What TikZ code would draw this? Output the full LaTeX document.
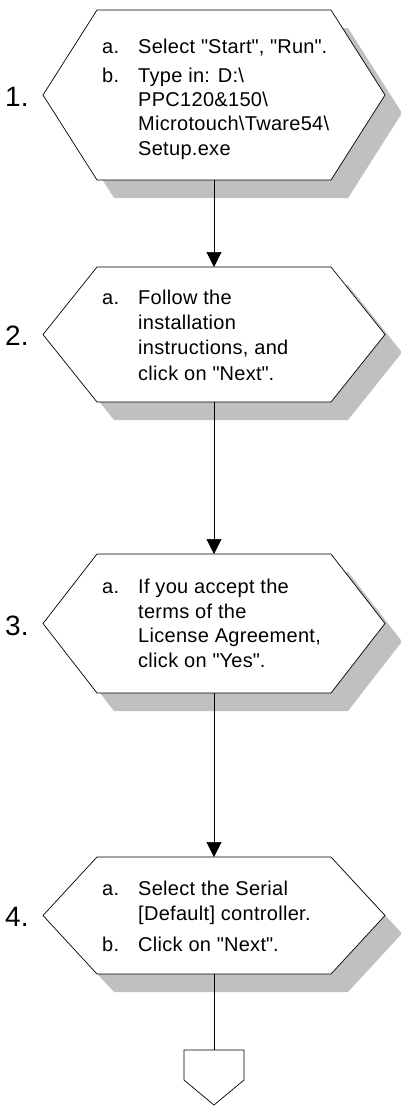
\documentclass[tikz,border=0pt]{standalone}
\usepackage{fontspec}
\setmainfont{Liberation Sans}[LetterSpace=1.5]
\newfontfamily\numfont{Liberation Sans}
\usetikzlibrary{arrows.meta,calc}
\definecolor{shadowgray}{HTML}{C0C0C0}
\newcommand\dq{\textquotedbl}
\tikzset{
 hexbox/.style={rectangle,draw=none,inner sep=0pt,outer sep=0pt,minimum width=342pt},
 hexline/.style={draw=black,fill=white,line width=0.7pt,line join=miter},
 shadowfill/.style={fill=shadowgray,draw=none},
 txt/.style={anchor=base west,inner sep=0pt,font=\fontsize{20}{24}\selectfont},
 num/.style={anchor=base west,inner sep=0pt,font=\numfont\fontsize{28}{32}\selectfont},
 flow/.style={draw=black,line width=0.7pt,-{Triangle[length=15pt,width=15pt]}},
 plain/.style={draw=black,line width=0.7pt},
}
\newcommand\hexdraw[2]{%
 \path[#1] (#2.west) -- ($(#2.north west)+(54,0)$) -- ($(#2.north east)+(-54,0)$) -- (#2.east) -- ($(#2.south east)+(-54,0)$) -- ($(#2.south west)+(54,0)$) -- cycle;}
\newcommand\myhex[4]{%
 \node[hexbox,minimum height=#4pt] (#1s) at ($(#2,#3)+(17,18)$) {};
 \hexdraw{shadowfill}{#1s}
 \node[hexbox,minimum height=#4pt] (#1) at (#2,#3) {};
 \hexdraw{hexline}{#1}
}
\begin{document}
\begin{tikzpicture}[x=1pt,y=-1pt]
\useasboundingbox (0,0) rectangle (400,1106);
\myhex{h1}{214}{95}{170}
\myhex{h2}{214}{334.5}{135}
\myhex{h3}{214}{623.5}{139}
\myhex{h4}{214}{915.5}{117}
% off-page connector
\node[rectangle,draw=none,inner sep=0pt,outer sep=0pt,minimum width=60pt,minimum height=55pt,anchor=north] (op) at (214,1050) {};
% connectors
\draw[flow] (h1.south) -- (h2.north);
\draw[flow] (h2.south) -- (h3.north);
\draw[flow] (h3.south) -- (h4.north);
\draw[plain] (h4.south) -- (op.north);
\draw[plain,fill=white] (op.north west) -- ($(op.north west)+(0,30)$) -- (op.south) -- ($(op.north east)+(0,30)$) -- (op.north east) -- cycle;
% step numbers
\node[num] (n1) at (5,106) {1.};
\node[num] (n2) at (5,345) {2.};
\node[num] (n3) at (5,635) {3.};
\node[num] (n4) at (5,926) {4.};
% step 1
\node[txt] (l1a) at (102,53) {a.};
\node[txt] (t1a) at (138,53) {Select \dq Start\dq, \dq Run\dq.};
\node[txt] (l1b) at (102,82) {b.};
\node[txt] (t1b) at (138,82) {Type in: D:\textbackslash};
\node[txt] (t1c) at (138,106) {PPC120\&150\textbackslash};
\node[txt] (t1d) at (138,130.5) {Microtouch\textbackslash Tware54\textbackslash};
\node[txt] (t1e) at (138,155) {Setup.exe};
% step 2
\node[txt] (l2a) at (102,304) {a.};
\node[txt] (t2a) at (138,304) {Follow the};
\node[txt] (t2b) at (138,329) {installation};
\node[txt] (t2c) at (138,354.5) {instructions, and};
\node[txt] (t2d) at (138,380) {click on \dq Next\dq.};
% step 3
\node[txt] (l3a) at (102,593.3) {a.};
\node[txt] (t3a) at (138,593.3) {If you accept the};
\node[txt] (t3b) at (138,618.3) {terms of the};
\node[txt] (t3c) at (138,642.8) {License Agreement,};
\node[txt] (t3d) at (138,667.3) {click on \dq Yes\dq.};
% step 4
\node[txt] (l4a) at (102,895) {a.};
\node[txt] (t4a) at (138,895) {Select the Serial};
\node[txt] (t4b) at (138,920) {[Default] controller.};
\node[txt] (l4b) at (102,951.7) {b.};
\node[txt] (t4c) at (138,951.7) {Click on \dq Next\dq.};
\end{tikzpicture}
\end{document}
